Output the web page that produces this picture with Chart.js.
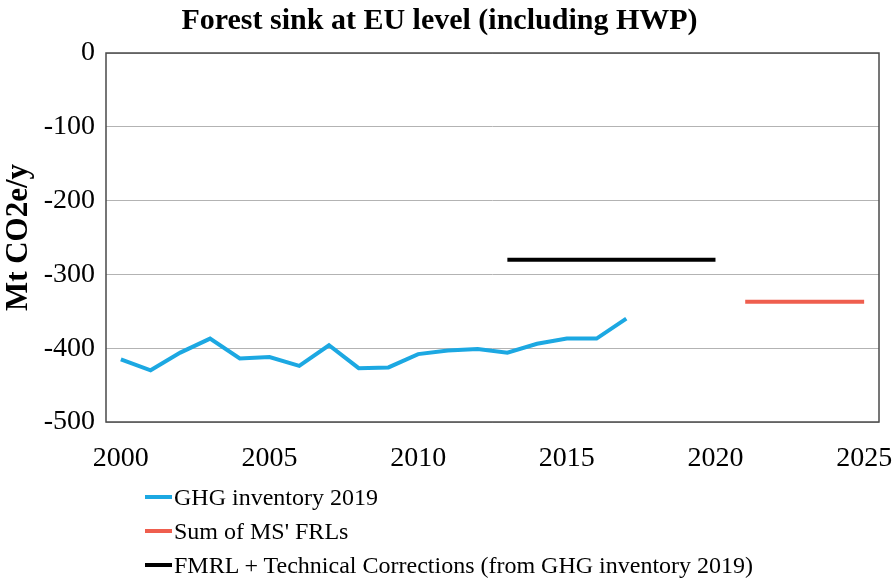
<!DOCTYPE html>
<html>
<head>
<meta charset="utf-8">
<script src="https://cdn.jsdelivr.net/npm/chart.js@4.4.1/dist/chart.umd.min.js"></script>
<style>
  html, body { margin: 0; padding: 0; background: #fff; }
  #wrap { position: relative; width: 896px; height: 582px; }
  #c { position: absolute; left: 0; top: 0; }
  #legend { position: absolute; left: 145px; top: 480px; font-family: "Liberation Serif", "Times New Roman", serif; font-size: 24px; color: #000; }
  .item { display: flex; align-items: center; height: 34px; }
  .swatch { width: 27px; height: 4px; margin-right: 2px; }
</style>
</head>
<body>
<div id="wrap">
  <canvas id="c" width="896" height="582"></canvas>
  <div id="legend"></div>
</div>
<script>
// ---- data ----
const years = ['2000','2001','2002','2003','2004','2005','2006','2007','2008','2009','2010','2011','2012','2013','2014','2015','2016','2017','2018','2019','2020','2021','2022','2023','2024','2025'];
const ghgYears = ['2000','2001','2002','2003','2004','2005','2006','2007','2008','2009','2010','2011','2012','2013','2014','2015','2016','2017'];
const ghgInventory2019 = [-415,-430,-406,-387,-414,-412,-424,-396,-427,-426,-408,-403,-401,-406,-394,-387,-387,-360];
const frlYears = ['2021','2025'];
const frlValues = [-337,-337];
const fmrlYears = ['2013','2020'];
const fmrlValues = [-280,-280];
const yTicks = [0,-100,-200,-300,-400,-500];

const serif = '"Liberation Serif", "Times New Roman", serif';

const boxPlugin = {
  id: 'box',
  afterDatasetsDraw(chart) {
    const a = chart.chartArea, ctx = chart.ctx;
    ctx.save();
    ctx.strokeStyle = '#4a4a4a';
    ctx.lineWidth = 1.5;
    ctx.strokeRect(a.left, a.top, a.right - a.left, a.bottom - a.top);
    ctx.restore();
  }
};

const chart = new Chart(document.getElementById('c'), {
  type: 'line',
  data: {
    labels: years,
    datasets: [
      { label: 'GHG inventory 2019', data: ghgYears.map((y,i)=>({x:y, y:ghgInventory2019[i]})), borderColor: '#1ca8e2', borderWidth: 4, pointRadius: 0, tension: 0 },
      { label: "Sum of MS' FRLs", data: frlYears.map((y,i)=>({x:y, y:frlValues[i]})), borderColor: '#ef5e4e', borderWidth: 4, pointRadius: 0 },
      { label: 'FMRL + Technical Corrections (from GHG inventory 2019)', data: fmrlYears.map((y,i)=>({x:y, y:fmrlValues[i]})), borderColor: '#000000', borderWidth: 4, pointRadius: 0 }
    ]
  },
  options: {
    responsive: false,
    animation: false,
    layout: { padding: { left: 0, right: 17, top: 0, bottom: 105 } },
    plugins: {
      legend: { display: false },
      tooltip: { enabled: false },
      title: { display: true, text: 'Forest sink at EU level (including HWP)', color: '#000', font: { family: serif, size: 30, weight: 'bold' }, padding: { top: 3, bottom: 14 } }
    },
    scales: {
      x: {
        type: 'category',
        offset: true,
        grid: { display: true, drawOnChartArea: false, drawTicks: true, tickLength: 20, color: 'rgba(0,0,0,0)' },
        border: { display: false },
        ticks: { autoSkip: false, maxRotation: 0, color: '#000', font: { family: serif, size: 28 }, padding: 0,
          callback: function(v, i) { const l = this.getLabelForValue(v); return (+l) % 5 === 0 ? l : ''; } },
        afterFit(s) { s.height = 55; }
      },
      y: {
        min: -500, max: 0,
        afterBuildTicks(s) { s.ticks = yTicks.map(v => ({ value: v })); },
        grid: { color: '#b3b3b3', lineWidth: 1, drawTicks: false },
        border: { display: false },
        ticks: { color: '#000', font: { family: serif, size: 28 }, padding: 11 },
        title: { display: true, text: 'Mt CO2e/y', color: '#000', font: { family: serif, size: 31, weight: 'bold' }, padding: 0 },
        afterFit(s) { s.width = 106; }
      }
    }
  },
  plugins: [boxPlugin]
});

const leg = document.getElementById('legend');
[0,1,2].forEach(i => {
  const ds = chart.data.datasets[i];
  const d = document.createElement('div'); d.className = 'item';
  const sw = document.createElement('span'); sw.className = 'swatch'; sw.style.background = ds.borderColor;
  const t = document.createElement('span'); t.textContent = ds.label;
  d.appendChild(sw); d.appendChild(t); leg.appendChild(d);
});
</script>
</body>
</html>
